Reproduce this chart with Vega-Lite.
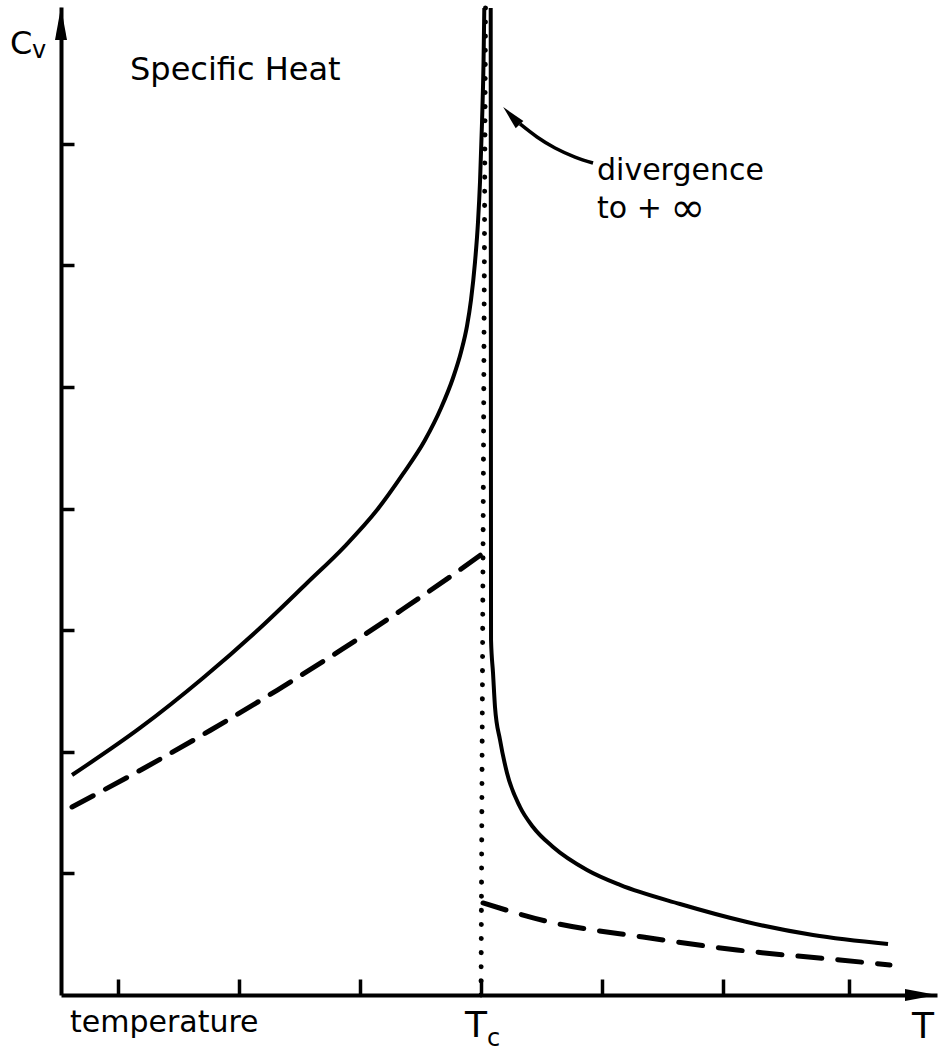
{
  "$schema": "https://vega.github.io/schema/vega-lite/v6.json",
  "width": 876,
  "height": 988,
  "autosize": {"type": "none"},
  "padding": {"left": 61, "top": 7, "right": 4, "bottom": 57},
  "background": "white",
  "config": {"view": {"stroke": null}, "font": "DejaVu Sans"},
  "datasets": {
    "solid_left": [
      {"T": 0.155, "Cv": 1.809}, {"T": 0.2955, "Cv": 2.196}, {"T": 0.4256, "Cv": 2.607},
      {"T": 0.5434, "Cv": 3.018}, {"T": 0.6405, "Cv": 3.388}, {"T": 0.719, "Cv": 3.692},
      {"T": 0.7851, "Cv": 3.988}, {"T": 0.8388, "Cv": 4.285}, {"T": 0.8843, "Cv": 4.564},
      {"T": 0.9174, "Cv": 4.827}, {"T": 0.9421, "Cv": 5.074}, {"T": 0.9587, "Cv": 5.288},
      {"T": 0.9711, "Cv": 5.502}, {"T": 0.9793, "Cv": 5.715}, {"T": 0.9876, "Cv": 6.028},
      {"T": 0.9938, "Cv": 6.357}, {"T": 0.9979, "Cv": 6.686}, {"T": 1.0021, "Cv": 7.179},
      {"T": 1.0052, "Cv": 7.673}, {"T": 1.0068, "Cv": 8.117}
    ],
    "solid_right": [
      {"T": 1.02, "Cv": 8.117}, {"T": 1.0204, "Cv": 5.0}, {"T": 1.0207, "Cv": 2.919},
      {"T": 1.0248, "Cv": 2.648}, {"T": 1.0289, "Cv": 2.368}, {"T": 1.0393, "Cv": 2.097},
      {"T": 1.0537, "Cv": 1.826}, {"T": 1.0806, "Cv": 1.546}, {"T": 1.1074, "Cv": 1.382},
      {"T": 1.1488, "Cv": 1.217}, {"T": 1.219, "Cv": 1.028}, {"T": 1.2872, "Cv": 0.905},
      {"T": 1.4112, "Cv": 0.748}, {"T": 1.5496, "Cv": 0.6}, {"T": 1.686, "Cv": 0.493},
      {"T": 1.8409, "Cv": 0.419}
    ],
    "dashed_left": [
      {"T": 0.155, "Cv": 1.546}, {"T": 0.3017, "Cv": 1.861}, {"T": 0.4401, "Cv": 2.175},
      {"T": 0.5785, "Cv": 2.506}, {"T": 0.7149, "Cv": 2.848}, {"T": 0.8388, "Cv": 3.174},
      {"T": 0.9566, "Cv": 3.497}, {"T": 1.0083, "Cv": 3.645}
    ],
    "dashed_right": [
      {"T": 1.0041, "Cv": 0.757}, {"T": 1.1426, "Cv": 0.6}, {"T": 1.3347, "Cv": 0.477},
      {"T": 1.5289, "Cv": 0.37}, {"T": 1.7417, "Cv": 0.288}, {"T": 1.845, "Cv": 0.247}
    ],
    "dotted": [{"T": 1.0, "Cv": 0}, {"T": 1.0093, "Cv": 8.117}],
    "pointer": [
      {"T": 1.0806, "Cv": 7.163}, {"T": 1.1157, "Cv": 7.056}, {"T": 1.1529, "Cv": 6.965},
      {"T": 1.1942, "Cv": 6.891}, {"T": 1.2314, "Cv": 6.842}
    ],
    "labels32": [
      {"T": 0.2748, "Cv": 7.525, "label": "Specific Heat"},
      {"T": 0.0269, "Cv": 7.738, "label": "C"}
    ],
    "labels30": [
      {"T": 1.2397, "Cv": 6.702, "label": "divergence"},
      {"T": 1.2397, "Cv": 6.39, "label": "to +"},
      {"T": 0.1508, "Cv": -0.304, "label": "temperature"}
    ],
    "labels_inf": [
      {"T": 1.3905, "Cv": 6.357, "label": "∞"}
    ],
    "labelsT": [
      {"T": 0.9669, "Cv": -0.345, "label": "T"},
      {"T": 1.8905, "Cv": -0.354, "label": "T"}
    ],
    "subs": [
      {"T": 0.0723, "Cv": 7.706, "label": "v"},
      {"T": 1.0124, "Cv": -0.42, "label": "c"}
    ]
  },
  "encoding": {
    "x": {
      "field": "T", "type": "quantitative",
      "scale": {"domain": [0.1322, 1.9421], "nice": false, "zero": false},
      "axis": {
        "values": [0.25, 0.5, 0.75, 1, 1.25, 1.5, 1.76],
        "labels": false, "title": null, "grid": false,
        "domainColor": "black", "domainWidth": 4,
        "tickColor": "black", "tickWidth": 3.5, "tickSize": -16
      }
    },
    "y": {
      "field": "Cv", "type": "quantitative",
      "scale": {"domain": [0, 8.125], "nice": false, "zero": false},
      "axis": {
        "values": [1, 2, 3, 4, 5, 6, 7],
        "labels": false, "title": null, "grid": false,
        "domainColor": "black", "domainWidth": 4,
        "tickColor": "black", "tickWidth": 3.5, "tickSize": -13
      }
    }
  },
  "layer": [
    {"data": {"name": "dotted"}, "mark": {"type": "line", "color": "black", "strokeWidth": 5, "strokeDash": [0.1, 14], "strokeCap": "round"}},
    {"data": {"name": "solid_left"}, "mark": {"type": "line", "color": "black", "strokeWidth": 4, "interpolate": "monotone"}},
    {"data": {"name": "solid_right"}, "mark": {"type": "line", "color": "black", "strokeWidth": 4, "interpolate": "monotone"}},
    {"data": {"name": "dashed_left"}, "mark": {"type": "line", "color": "black", "strokeWidth": 5, "interpolate": "monotone", "strokeDash": [24, 14], "strokeCap": "round"}},
    {"data": {"name": "dashed_right"}, "mark": {"type": "line", "color": "black", "strokeWidth": 5, "interpolate": "monotone", "strokeDash": [24, 16], "strokeCap": "round"}},
    {"data": {"name": "pointer"}, "mark": {"type": "line", "color": "black", "strokeWidth": 3.5, "interpolate": "monotone"}},
    {"data": {"values": [{"T": 0.1322, "Cv": 7.961}]}, "mark": {"type": "point", "filled": true, "color": "black", "opacity": 1, "size": 1600, "shape": "M0,-1L0.3,0.65L-0.3,0.65Z"}},
    {"data": {"values": [{"T": 1.9008, "Cv": 0}]}, "mark": {"type": "point", "filled": true, "color": "black", "opacity": 1, "size": 1600, "shape": "M1,0L-0.6,-0.3L-0.6,0.3Z"}},
    {"data": {"values": [{"T": 1.0669, "Cv": 7.212}]}, "mark": {"type": "point", "filled": true, "color": "black", "opacity": 1, "size": 900, "angle": 317, "shape": "M0,-1L0.35,0.6L-0.35,0.6Z"}},
    {"data": {"name": "labels32"}, "mark": {"type": "text", "align": "left", "baseline": "alphabetic", "fontSize": 32, "color": "black"}, "encoding": {"text": {"field": "label"}}},
    {"data": {"name": "labels30"}, "mark": {"type": "text", "align": "left", "baseline": "alphabetic", "fontSize": 30, "color": "black"}, "encoding": {"text": {"field": "label"}}},
    {"data": {"name": "labels_inf"}, "mark": {"type": "text", "align": "left", "baseline": "alphabetic", "fontSize": 42, "color": "black"}, "encoding": {"text": {"field": "label"}}},
    {"data": {"name": "labelsT"}, "mark": {"type": "text", "align": "left", "baseline": "alphabetic", "fontSize": 36, "color": "black"}, "encoding": {"text": {"field": "label"}}},
    {"data": {"name": "subs"}, "mark": {"type": "text", "align": "left", "baseline": "alphabetic", "fontSize": 24, "color": "black"}, "encoding": {"text": {"field": "label"}}}
  ]
}
